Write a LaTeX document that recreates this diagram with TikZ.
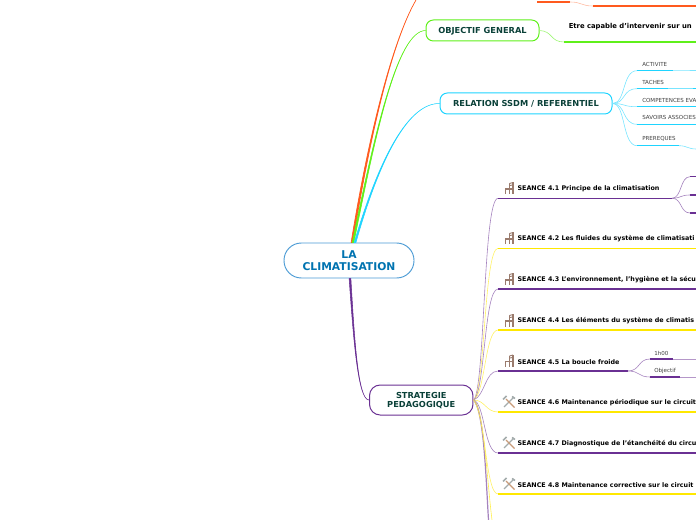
\documentclass[tikz,border=0pt]{standalone}
\usepackage{fontspec}
\setmainfont{DejaVu Sans}
\usetikzlibrary{positioning}

\definecolor{rootblue}{HTML}{0073B0}
\definecolor{rootline}{HTML}{4A9AD4}
\definecolor{darkteal}{HTML}{0A4038}
\definecolor{brorange}{HTML}{FF5A1E}
\definecolor{brgreen}{HTML}{5FF01A}
\definecolor{brcyan}{HTML}{1FD4FF}
\definecolor{brpurple}{HTML}{6A3093}
\definecolor{bryellow}{HTML}{FFE800}
\definecolor{chairbrown}{HTML}{9A7B6D}
\definecolor{toolgrey}{HTML}{A4ACAC}
\definecolor{tooltan}{HTML}{C89A78}

\newcommand{\capstrut}{\rule{0pt}{5.5pt}}

\tikzset{
  rootbox/.style={draw=rootline, line width=0.7pt, rounded corners=13pt, minimum width=97.5pt, minimum height=26.25pt, align=center, text=rootblue, font=\fontsize{8.05}{9}\selectfont\bfseries, inner sep=0pt},
  branchbox/.style={line width=0.75pt, fill=white, rounded corners=5.5pt, minimum height=15.75pt, align=center, text=darkteal, font=\fontsize{6.2}{6.75}\selectfont\bfseries, inner sep=0pt},
  seance/.style={anchor=west, inner sep=0pt, font=\fontsize{4.78}{5.5}\selectfont\bfseries},
  smalltag/.style={anchor=west, inner sep=0pt, text=black!75, font=\fontsize{4.15}{5}\selectfont},
  rule/.style={line width=1.1pt},
  thinline/.style={line width=0.45pt},
  seatchair/.pic={
    \fill[chairbrown] (-4.5,-0.2) rectangle (4.5,1.2);
    \draw[chairbrown, line width=0.8pt] (4,-6) -- (4,6);
    \draw[chairbrown, line width=0.7pt] (-4,0) -- (-4,6) (0.5,0) -- (0.5,6);
    \draw[chairbrown, line width=0.7pt] (0.5,-5) -- (4,-6) (0.5,-3) -- (4,-3.5) (0.5,-5) -- (0.5,0);
  },
  toolcross/.pic={
    \draw[toolgrey, line width=1pt] (5,-5) -- (-5,5);
    \draw[toolgrey, line width=1.2pt] (3,-5.5) -- (6,-3.5);
    \draw[tooltan, line width=1pt] (-3,-3) -- (5.5,5.5);
    \draw[toolgrey, line width=1.3pt] (-6,-2.5) -- (-2.5,-6);
  }
}

\begin{document}
\begin{tikzpicture}[x=0.75pt,y=-0.75pt]
\useasboundingbox (0,0) rectangle (696,520);
\clip (0,0) rectangle (696,520);

\node[rootbox] (root) at (349,260.5) {LA\\CLIMATISATION};
\node[branchbox, draw=brgreen, minimum width=84.75pt] (objectif) at (482.5,30.5) {\capstrut OBJECTIF GENERAL};
\node[branchbox, draw=brcyan, minimum width=129pt] (relation) at (526,103.5) {\capstrut RELATION SSDM / REFERENTIEL};
\node[branchbox, draw=brpurple, minimum width=77.6pt, minimum height=22.5pt, rounded corners=8pt] (strategie) at (421.25,400) {\capstrut STRATEGIE\\PEDAGOGIQUE};

% free ends
\coordinate (topend) at (416,0);
\coordinate (ora) at (537,2);
\coordinate (orb) at (570,2);
\coordinate (orc) at (593,6);
\coordinate (ord) at (696,6);
\coordinate (goa) at (564,42);
\coordinate (gob) at (696,42);

% main branches
\filldraw[brorange, line width=0.5pt] ([xshift=1.6pt]root.north) .. controls (366,150) and (390,45) .. (topend) .. controls (390,45) and (367.5,150) .. ([xshift=2.9pt]root.north) -- cycle;
\filldraw[brgreen, line width=0.4pt] ([xshift=2.4pt]root.north) .. controls (374.5,135) and (397,31) .. (objectif.west) .. controls (397,31) and (375.5,135) .. ([xshift=3.7pt]root.north) -- cycle;
\filldraw[brcyan, line width=0.4pt] ([xshift=3.9pt]root.north) .. controls (375.5,170) and (405,103) .. (relation.west) .. controls (405,103) and (376.5,170) .. ([xshift=5.2pt]root.north) -- cycle;
\filldraw[brpurple, line width=0.4pt] ([xshift=0.1pt]root.south) .. controls (353.5,340) and (358,400) .. (strategie.west) .. controls (358,400) and (354.5,340) .. ([xshift=1.4pt]root.south) -- cycle;

% top right
\draw[brorange, rule] (ora) -- (orb);
\draw[brorange!40, thinline] (orb) .. controls (582,2) and (581,6) .. (orc);
\draw[brorange, rule] (orc) -- (ord);
\node[seance, font=\fontsize{5.12}{6}\selectfont\bfseries] (etre) at (568.5,27) {Etre capable d'intervenir sur un};
\draw[brgreen!60, thinline] (objectif.east) .. controls (553,31) and (550,42) .. (goa);
\draw[brgreen, rule] (goa) -- (gob);

% referentiel
\foreach \nm/\txt/\ya/\xb in {act/ACTIVITE/70.7/673, tac/TACHES/88.7/668, com/COMPETENCES EVA/106.7/696, sav/SAVOIRS ASSOCIES/124.3/696, pre/PREREQUES/145.7/679}{
  \coordinate (\nm a) at (637,\ya);
  \coordinate (\nm b) at (\xb,\ya);
  \node[smalltag] (\nm) at (642,\ya-6.5) {\txt};
  \draw[brcyan!60, thinline] (relation.east) .. controls (626,103.5) and (622,\ya) .. (\nm a);
  \draw[brcyan, rule] (\nm a) -- (\nm b);
}
\coordinate (actc) at (696,70.5);
\coordinate (tacc) at (693,88.7);
\coordinate (tacd) at (696,88.7);
\coordinate (prec) at (696,149);
\draw[brcyan!60, thinline] (actb) -- (actc);
\draw[brcyan!60, thinline] (tacb) -- (tacc);
\draw[brcyan, rule] (tacc) -- (tacd);
\draw[brcyan!60, thinline] (preb) .. controls (687,145.7) and (688,149) .. (prec);

% seances
\foreach \nm/\txt/\ya/\col/\xb/\yctrl/\xctrl in {
  sa/{SEANCE 4.1 Principe de la climatisation}/198.3/brpurple/672/392/483,
  sb/{SEANCE 4.2 Les fluides du système de climatisati}/248.3/bryellow/696/393/484,
  sc/{SEANCE 4.3 L'environnement, l'hygiène et la sécu}/289/brpurple/696/394/484,
  sd/{SEANCE 4.4 Les éléments du système de climatis}/330/bryellow/696/395/485,
  se/{SEANCE 4.5 La boucle froide}/371/brpurple/628/396/485,
  sf/{SEANCE 4.6 Maintenance périodique sur le circuit}/412/bryellow/696/400/486,
  sg/{SEANCE 4.7 Diagnostique de l'étanchéité du circu}/453/brpurple/696/403/484,
  sh/{SEANCE 4.8 Maintenance corrective sur le circuit}/494/bryellow/696/405/485}{
  \coordinate (\nm a) at (498,\ya);
  \coordinate (\nm b) at (\xb,\ya);
  \node[seance] (\nm) at (517.3,\ya-9.2) {\txt};
  \draw[\col!60, thinline] (strategie.east) .. controls (485,\yctrl) and (\xctrl,\ya) .. (\nm a);
  \draw[\col, rule] (\nm a) -- (\nm b);
}
\coordinate (bota) at (488.5,520);
\coordinate (botb) at (492,520);
\draw[brpurple!60, line width=0.9pt] (strategie.east) .. controls (484,410) and (486,480) .. (bota);
\draw[bryellow!70, thinline] (strategie.east) .. controls (484,412) and (487,480) .. (botb);

% icons
\foreach \ya in {188.5,238.5,279.5,320.5,361}{
  \pic at (509,\ya) {seatchair};
}
\foreach \ya in {402,443,484}{
  \pic at (509,\ya) {toolcross};
}

% seance 4.1 children
\foreach \nm/\ya in {ka/176.7,kb/195,kc/213}{
  \coordinate (\nm a) at (690,\ya);
  \coordinate (\nm b) at (696,\ya);
  \draw[brpurple!60, thinline] (sab) .. controls (682,198) and (680,\ya) .. (\nm a);
  \draw[brpurple, rule] (\nm a) -- (\nm b);
}

% seance 4.5 children
\foreach \nm/\txt/\ya/\xb in {heure/1h00/359/673, obj/Objectif/377/680}{
  \coordinate (\nm a) at (650,\ya);
  \coordinate (\nm b) at (\xb,\ya);
  \coordinate (\nm c) at (696,\ya);
  \node[smalltag] (\nm) at (654,\ya-6) {\txt};
  \draw[brpurple!60, thinline] (seb) .. controls (640,371) and (638,\ya) .. (\nm a);
  \draw[brpurple, rule] (\nm a) -- (\nm b);
  \draw[brpurple!50, thinline] (\nm b) -- (\nm c);
}
\end{tikzpicture}
\end{document}
